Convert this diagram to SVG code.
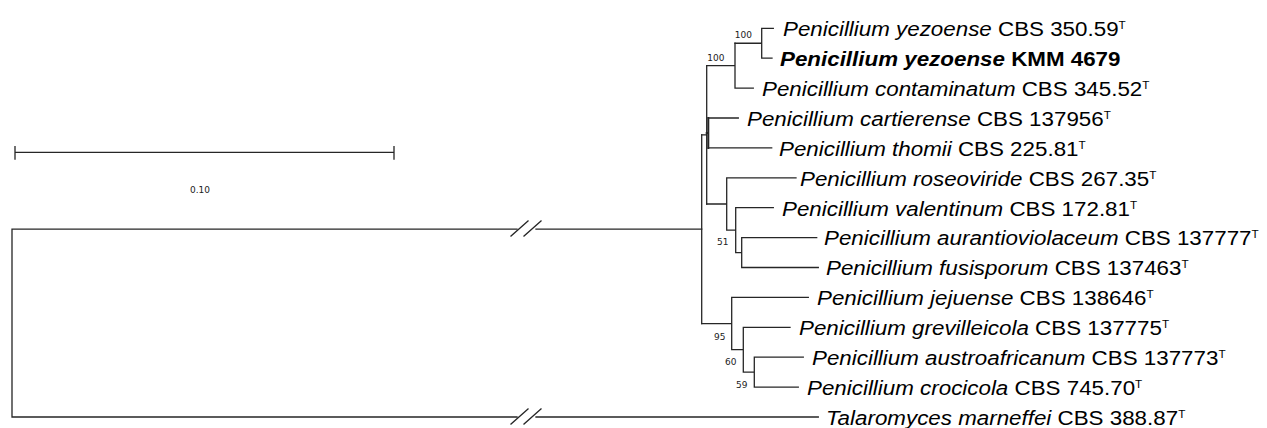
<svg xmlns="http://www.w3.org/2000/svg" width="1267" height="428" viewBox="0 0 1267 428">
<style>
.br{stroke:#262626;stroke-width:1.3;fill:none;stroke-linecap:square}
.tx{font-family:"Liberation Sans",Arial,sans-serif;font-size:21px;fill:#000}
.it{font-style:italic}
.b{font-weight:bold}
.sup{font-size:11px}
.bs{font-family:"DejaVu Sans",Verdana,sans-serif;font-size:9px;fill:#222}
</style>
<rect width="1267" height="428" fill="#fff"/>
<g id="connectors">
<path class="br" d="M12,229.2V417 M12,229.2H517 M536,229.2H701.7 M12,417H517 M536,417H818.3"/>
<path class="br" d="M511,236L528,221 M524,236L541,221 M511,424L528,409 M524,424L541,409"/>
<path class="br" d="M701.7,134.8V323.6"/>
<path class="br" d="M701.7,134.8H706.7 M706.7,65.7V204"/>
<path class="br" d="M706.7,65.7H735 M735,43.25V88.1 M735,88.1H753.3"/>
<path class="br" d="M735,43.25H761.7 M761.7,28.3V58.2 M761.7,28.3H773.3 M761.7,58.2H772"/>
<path class="br" d="M706.7,133H708.3 M708.3,118V147.9" style="stroke-width:2"/>
<path class="br" d="M708.3,118H738.3 M708.3,147.9H771.7"/>
<path class="br" d="M706.7,204H726.7 M726.7,177.8V230.1 M726.7,177.8H796 M726.7,230.1H735.7 M735.7,207.7V252.55 M735.7,207.7H773.3 M735.7,252.55H741.7 M741.7,237.6V267.5 M741.7,237.6H816.7 M741.7,267.5H818.3"/>
<path class="br" d="M701.7,323.6H731.7 M731.7,297.4V349.7 M731.7,297.4H808.3 M731.7,349.7H743.3 M743.3,327.3V372.15 M743.3,327.3H790 M743.3,372.15H754.3 M754.3,357.2V387.1 M754.3,357.2H803.3 M754.3,387.1H798.3"/>
</g>
<g id="scale">
<path class="br" d="M15,152.3H394 M15,146.7V159 M394,146.7V159"/>
<text class="bs" x="200" y="192.5" text-anchor="middle">0.10</text>
</g>
<g id="bootstrap">
<text class="bs" x="752" y="37.5" text-anchor="end">100</text>
<text class="bs" x="724.5" y="61" text-anchor="end">100</text>
<text class="bs" x="728.5" y="245" text-anchor="end">51</text>
<text class="bs" x="725.5" y="339.5" text-anchor="end">95</text>
<text class="bs" x="736.5" y="365" text-anchor="end">60</text>
<text class="bs" x="747.5" y="388" text-anchor="end">59</text>
</g>
<g id="leaf-yezoense-cbs"><text class="tx" transform="translate(783,36.1) scale(1.065,1)"><tspan class="it">Penicillium yezoense</tspan> CBS 350.59<tspan class="sup" dy="-7">T</tspan></text></g>
<g id="leaf-yezoense-kmm"><text class="tx b" transform="translate(780,66) scale(1.065,1)"><tspan class="it">Penicillium yezoense</tspan> KMM 4679</text></g>
<g id="leaf-contaminatum"><text class="tx" transform="translate(762,95.9) scale(1.065,1)"><tspan class="it">Penicillium contaminatum</tspan> CBS 345.52<tspan class="sup" dy="-7">T</tspan></text></g>
<g id="leaf-cartierense"><text class="tx" transform="translate(747,125.8) scale(1.065,1)"><tspan class="it">Penicillium cartierense</tspan> CBS 137956<tspan class="sup" dy="-7">T</tspan></text></g>
<g id="leaf-thomii"><text class="tx" transform="translate(779,155.7) scale(1.065,1)"><tspan class="it">Penicillium thomii</tspan> CBS 225.81<tspan class="sup" dy="-7">T</tspan></text></g>
<g id="leaf-roseoviride"><text class="tx" transform="translate(800,185.6) scale(1.065,1)"><tspan class="it">Penicillium roseoviride</tspan> CBS 267.35<tspan class="sup" dy="-7">T</tspan></text></g>
<g id="leaf-valentinum"><text class="tx" transform="translate(782,215.5) scale(1.065,1)"><tspan class="it">Penicillium valentinum</tspan> CBS 172.81<tspan class="sup" dy="-7">T</tspan></text></g>
<g id="leaf-aurantioviolaceum"><text class="tx" transform="translate(824,245.4) scale(1.065,1)"><tspan class="it">Penicillium aurantioviolaceum</tspan> CBS 137777<tspan class="sup" dy="-7">T</tspan></text></g>
<g id="leaf-fusisporum"><text class="tx" transform="translate(826,275.3) scale(1.065,1)"><tspan class="it">Penicillium fusisporum</tspan> CBS 137463<tspan class="sup" dy="-7">T</tspan></text></g>
<g id="leaf-jejuense"><text class="tx" transform="translate(817,305.2) scale(1.065,1)"><tspan class="it">Penicillium jejuense</tspan> CBS 138646<tspan class="sup" dy="-7">T</tspan></text></g>
<g id="leaf-grevilleicola"><text class="tx" transform="translate(799,335.1) scale(1.065,1)"><tspan class="it">Penicillium grevilleicola</tspan> CBS 137775<tspan class="sup" dy="-7">T</tspan></text></g>
<g id="leaf-austroafricanum"><text class="tx" transform="translate(812,365) scale(1.065,1)"><tspan class="it">Penicillium austroafricanum</tspan> CBS 137773<tspan class="sup" dy="-7">T</tspan></text></g>
<g id="leaf-crocicola"><text class="tx" transform="translate(807,394.9) scale(1.065,1)"><tspan class="it">Penicillium crocicola</tspan> CBS 745.70<tspan class="sup" dy="-7">T</tspan></text></g>
<g id="leaf-marneffei"><text class="tx" transform="translate(826,424.8) scale(1.065,1)"><tspan class="it">Talaromyces marneffei</tspan> CBS 388.87<tspan class="sup" dy="-7">T</tspan></text></g>
</svg>
